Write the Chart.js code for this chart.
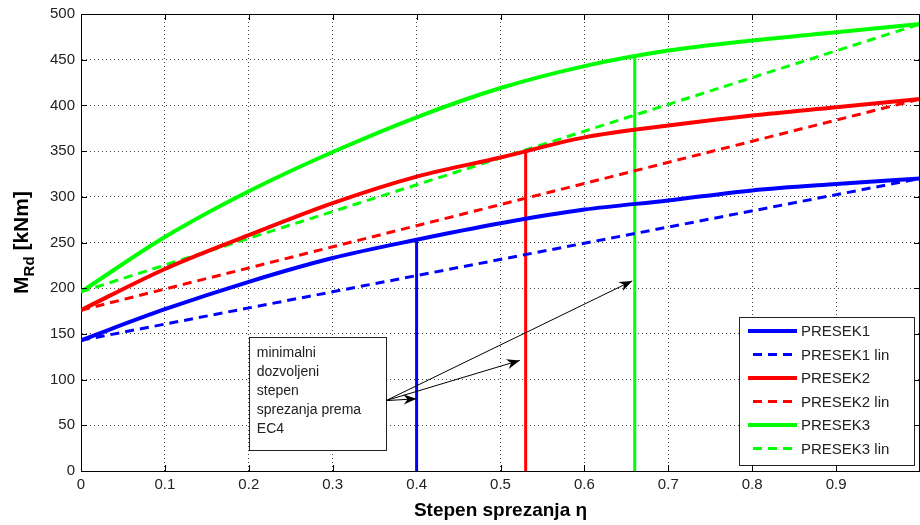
<!DOCTYPE html>
<html lang="sr">
<head>
    <meta charset="UTF-8">
    <title>Stepen sprezanja</title>
    <script src="https://cdn.jsdelivr.net/npm/chart.js"></script>
    <style>
        html, body { margin: 0; padding: 0; background: #fff; }
        #wrap { width: 920px; height: 525px; position: relative; }
    </style>
</head>
<body>
<div id="wrap"><canvas id="chart"></canvas></div>

<script>
    // podaci procitani sa slike
    const eta = [0, 0.1, 0.2, 0.3, 0.4, 0.5, 0.6, 0.7, 0.8, 0.9, 1.0];
    const presek1 = [143, 177, 207, 233, 253, 271, 286, 296, 307, 314, 320];
    const presek2 = [176, 221, 258, 293, 322, 343, 365, 378, 389, 398, 407];
    const presek3 = [196, 256, 306, 349, 387, 419, 443, 460, 471, 480, 489];

    const etaLin = [0, 1];
    const presek1Lin = [143, 320];
    const presek2Lin = [176, 407];
    const presek3Lin = [196, 489];

    // minimalni stepen sprezanja (vertikalne linije)
    const etaMin = [0.4, 0.53, 0.66];
    const mAtEtaMin = [253, 352, 453];

    const xTickStep = 0.1;
    const yTickStep = 50;

    // napomena i strelice (u jedinicama osa)
    const noteLines = ['minimalni', 'dozvoljeni', 'stepen', 'sprezanja prema', 'EC4'];
    const noteBoxX = [0.2, 0.3635];
    const noteBoxY = [147, 23];
    const arrowTail = [0.3635, 77];
    const arrowHeadX = [0.4, 0.523, 0.657];
    const arrowHeadY = [79, 121, 208];

    const BLUE = '#0000ff', RED = '#ff0000', GREEN = '#00ff00';
    const DASH = [9, 6];

    const pts = (xs, ys) => xs.map((x, i) => ({ x: x, y: ys[i] }));

    const solid = (label, data, color) => ({
        label, data: pts(eta, data), borderColor: color, backgroundColor: color,
        borderWidth: 4, pointRadius: 0, tension: 0.4, cubicInterpolationMode: 'monotone'
    });
    const dashed = (label, data, color) => ({
        label, data: pts(etaLin, data), borderColor: color, backgroundColor: color,
        borderWidth: 3, borderDash: DASH, pointRadius: 0
    });
    const vline = (i, color) => ({
        label: '', data: [{ x: etaMin[i], y: 0 }, { x: etaMin[i], y: mAtEtaMin[i] }],
        borderColor: color, borderWidth: 3, pointRadius: 0, inLegend: false
    });

    const datasets = [
        solid('PRESEK1', presek1, BLUE),
        dashed('PRESEK1 lin', presek1Lin, BLUE),
        solid('PRESEK2', presek2, RED),
        dashed('PRESEK2 lin', presek2Lin, RED),
        solid('PRESEK3', presek3, GREEN),
        dashed('PRESEK3 lin', presek3Lin, GREEN),
        vline(0, BLUE), vline(1, RED), vline(2, GREEN)
    ];

    function arrow(ctx, x0, y0, x1, y1) {
        ctx.beginPath();
        ctx.moveTo(x0, y0);
        ctx.lineTo(x1, y1);
        ctx.stroke();
        const a = Math.atan2(y1 - y0, x1 - x0);
        const L = 13, W = 5;
        ctx.save();
        ctx.translate(x1, y1);
        ctx.rotate(a);
        ctx.beginPath();
        ctx.moveTo(0, 0);
        ctx.lineTo(-L, -W);
        ctx.lineTo(-L * 0.7, 0);
        ctx.lineTo(-L, W);
        ctx.closePath();
        ctx.fill();
        ctx.restore();
    }

    const FONT = '"Liberation Sans", Arial, sans-serif';

    const extras = {
        id: 'extras',
        afterDraw(chart) {
            const ctx = chart.ctx;
            const xs = chart.scales.x, ys = chart.scales.y;
            const area = chart.chartArea;
            ctx.save();

            // okvir i unutrasnji podeoci
            ctx.strokeStyle = '#000';
            ctx.lineWidth = 1;
            ctx.beginPath();
            ctx.moveTo(area.left, area.top + 0.5);
            ctx.lineTo(area.right, area.top + 0.5);
            ctx.moveTo(area.right - 0.5, area.top);
            ctx.lineTo(area.right - 0.5, area.bottom);
            for (let v = 0; v <= 1.0001; v += xTickStep) {
                const px = Math.round(xs.getPixelForValue(v)) + 0.5;
                ctx.moveTo(px, area.bottom); ctx.lineTo(px, area.bottom - 6);
                ctx.moveTo(px, area.top); ctx.lineTo(px, area.top + 6);
            }
            for (let v = 0; v <= 500; v += yTickStep) {
                const py = Math.round(ys.getPixelForValue(v)) + 0.5;
                ctx.moveTo(area.left, py); ctx.lineTo(area.left + 6, py);
                ctx.moveTo(area.right, py); ctx.lineTo(area.right - 6, py);
            }
            ctx.stroke();

            // napomena
            const bx0 = xs.getPixelForValue(noteBoxX[0]), bx1 = xs.getPixelForValue(noteBoxX[1]);
            const by0 = ys.getPixelForValue(noteBoxY[0]), by1 = ys.getPixelForValue(noteBoxY[1]);
            ctx.fillStyle = '#fff';
            ctx.fillRect(bx0, by0, bx1 - bx0, by1 - by0);
            ctx.strokeStyle = '#222';
            ctx.strokeRect(Math.round(bx0) + 0.5, Math.round(by0) + 0.5, Math.round(bx1 - bx0), Math.round(by1 - by0));
            ctx.fillStyle = '#222';
            ctx.font = '14px ' + FONT;
            ctx.textBaseline = 'middle';
            ctx.textAlign = 'left';
            noteLines.forEach((t, i) => ctx.fillText(t, bx0 + 8, by0 + 16 + i * 19));

            // strelice
            ctx.strokeStyle = '#000';
            ctx.fillStyle = '#000';
            const tx = xs.getPixelForValue(arrowTail[0]), ty = ys.getPixelForValue(arrowTail[1]);
            arrowHeadX.forEach((hx, i) => arrow(ctx, tx, ty, xs.getPixelForValue(hx), ys.getPixelForValue(arrowHeadY[i])));

            // legenda
            const items = chart.data.datasets.filter(d => d.inLegend !== false);
            const lw = 175, rowH = 23.5, lh = items.length * rowH + 7;
            const lx = area.right - 6 - lw, ly = area.bottom - 6 - lh;
            ctx.fillStyle = '#fff';
            ctx.fillRect(lx, ly, lw, lh);
            ctx.strokeStyle = '#222';
            ctx.lineWidth = 1;
            ctx.strokeRect(Math.round(lx) + 0.5, Math.round(ly) + 0.5, lw, Math.round(lh));
            ctx.font = '15px ' + FONT;
            items.forEach((d, i) => {
                const y = ly + 14 + i * rowH;
                ctx.strokeStyle = d.borderColor;
                ctx.lineWidth = d.borderWidth;
                ctx.setLineDash(d.borderDash || []);
                ctx.beginPath();
                if (d.borderDash) { ctx.moveTo(lx + 14, y); ctx.lineTo(lx + 58, y); }
                else { ctx.moveTo(lx + 9, y); ctx.lineTo(lx + 58, y); }
                ctx.stroke();
                ctx.setLineDash([]);
                ctx.fillStyle = '#222';
                ctx.fillText(d.label, lx + 62, y + 1);
            });

            // naslovi osa
            ctx.fillStyle = '#000';
            ctx.textAlign = 'center';
            ctx.textBaseline = 'alphabetic';
            ctx.font = 'bold 19px ' + FONT;
            ctx.fillText('Stepen sprezanja η', (area.left + area.right) / 2, 516);

            ctx.translate(28, (area.top + area.bottom) / 2);
            ctx.rotate(-Math.PI / 2);
            const fBig = 'bold 21px ' + FONT;
            const fSub = 'bold 15px ' + FONT;
            ctx.font = fBig; const wM = ctx.measureText('M').width;
            ctx.font = fSub; const wRd = ctx.measureText('Rd').width;
            ctx.font = fBig; const wU = ctx.measureText(' [kNm]').width;
            let x = -(wM + wRd + wU) / 2;
            ctx.textAlign = 'left';
            ctx.font = fBig; ctx.fillText('M', x, 0); x += wM;
            ctx.font = fSub; ctx.fillText('Rd', x, 6); x += wRd;
            ctx.font = fBig; ctx.fillText(' [kNm]', x, 0);
            ctx.restore();
        }
    };

    const tickFont = { family: FONT, size: 15 };

    new Chart(document.getElementById('chart'), {
        type: 'line',
        data: { datasets },
        options: {
            responsive: true,
            maintainAspectRatio: false,
            animation: false,
            layout: { padding: { top: 14, right: 0, left: 0, bottom: 0 } },
            plugins: { legend: { display: false }, tooltip: { enabled: false } },
            scales: {
                x: {
                    type: 'linear', min: 0, max: 1,
                    afterFit: s => { s.height = 54; s.paddingRight = 0; s.paddingLeft = 0; },
                    ticks: {
                        stepSize: xTickStep, color: '#222', font: tickFont, padding: 5,
                        maxRotation: 0,
                        callback: v => (Math.abs(v - 1) < 1e-6 ? '' : String(Number(v.toFixed(1))))
                    },
                    grid: { color: '#444', lineWidth: 1, drawTicks: false, tickLength: 0 },
                    border: { display: true, color: '#000', width: 1, dash: [1, 3] }
                },
                y: {
                    min: 0, max: 500,
                    afterFit: s => { s.width = 81; s.paddingTop = 0; s.paddingBottom = 0; },
                    ticks: { stepSize: yTickStep, color: '#222', font: tickFont, padding: 6 },
                    grid: { color: '#444', lineWidth: 1, drawTicks: false, tickLength: 0 },
                    border: { display: true, color: '#000', width: 1, dash: [1, 3] }
                }
            }
        },
        plugins: [extras]
    });
</script>
</body>
</html>
